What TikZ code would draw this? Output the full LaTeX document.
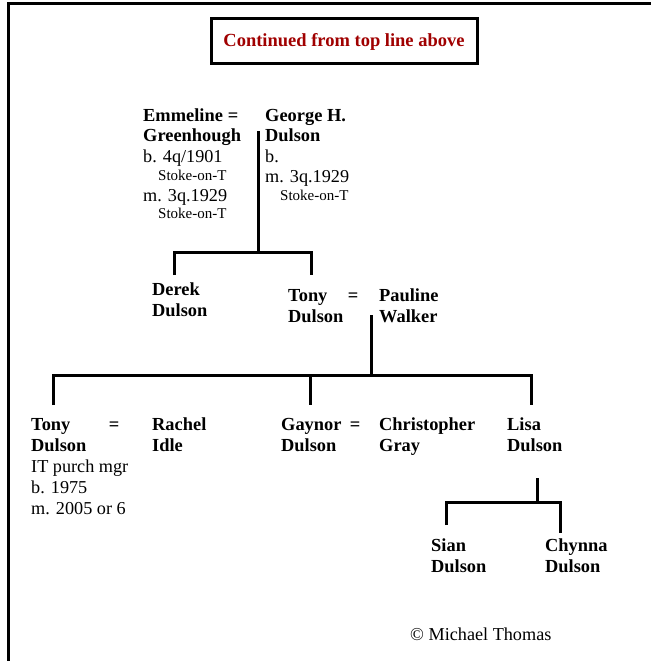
\documentclass[tikz,border=0pt]{standalone}
\usepackage{fontspec}
\setmainfont{Liberation Serif}
\definecolor{titlered}{HTML}{A00000}
\begin{document}
\begin{tikzpicture}[x=1pt,y=-1pt,
  pname/.style={anchor=base west, inner sep=0pt, font=\bfseries\fontsize{18.4}{20}\selectfont},
  pinfo/.style={anchor=base west, inner sep=0pt, font=\fontsize{18.2}{20}\selectfont},
  psmall/.style={anchor=base west, inner sep=0pt, font=\fontsize{15}{16}\selectfont},
  peq/.style={anchor=base, inner sep=0pt, font=\bfseries\fontsize{18.4}{20}\selectfont},
  link/.style={line width=3pt},
  titlebox/.style={draw, line width=3pt, minimum width=266pt, minimum height=45pt, inner sep=0pt,
    text=titlered, font=\bfseries\fontsize{18.5}{22}\selectfont}]
\useasboundingbox (0,0) rectangle (651,661);
\draw[line width=3pt] (8,661) -- (8,4) -- (651,4);
\node[titlebox] (title) at (344,41.5) {Continued from top line above};

% generation 1
\node[pname] (emm1) at (143,121.5) {Emmeline};
\node[peq] (eqa) at (233,121.5) {=};
\node[pname] (geo1) at (265,121.5) {George H.};
\node[pname] (emm2) at (143,141.5) {Greenhough};
\node[pname] (geo2) at (265,141.5) {Dulson};
\node[pinfo] (emm3) at (143,162.5) {b. 4q/1901};
\node[psmall] (emm4) at (158,180.5) {Stoke-on-T};
\node[pinfo] (emm5) at (143,201) {m. 3q.1929};
\node[psmall] (emm6) at (158,218.5) {Stoke-on-T};
\node[pinfo] (geo3) at (265,162.5) {b.};
\node[pinfo] (geo4) at (265,182) {m. 3q.1929};
\node[psmall] (geo5) at (280,200) {Stoke-on-T};

\coordinate (g1top) at (258,131);
\coordinate (g1bar) at (258,252);
\coordinate (g1l) at (174,252);
\coordinate (g1r) at (311,252);
\coordinate (g1ld) at (174,275);
\coordinate (g1rd) at (311,275);
\draw[link] (g1top) -- (g1bar);
\draw[link] (g1ld) -- (g1l) -- (g1r) -- (g1rd);

% generation 2
\node[pname] (der1) at (152,295) {Derek};
\node[pname] (der2) at (152,316) {Dulson};
\node[pname] (ton1) at (288,301) {Tony};
\node[peq] (eqb) at (353,301) {=};
\node[pname] (pau1) at (379,301) {Pauline};
\node[pname] (ton2) at (288,322) {Dulson};
\node[pname] (pau2) at (379,322) {Walker};

\coordinate (g2top) at (371,315);
\coordinate (g2bar) at (371,375);
\coordinate (g2l) at (53,375);
\coordinate (g2m) at (310,375);
\coordinate (g2r) at (531,375);
\coordinate (g2ld) at (53,405);
\coordinate (g2md) at (310,405);
\coordinate (g2rd) at (531,405);
\draw[link] (g2top) -- (g2bar);
\draw[link] (g2ld) -- (g2l) -- (g2r) -- (g2rd);
\draw[link] (g2m) -- (g2md);

% generation 3
\node[pname] (tt1) at (31,430) {Tony};
\node[peq] (eqc) at (114,430) {=};
\node[pname] (rac1) at (152,430) {Rachel};
\node[pname] (tt2) at (31,451) {Dulson};
\node[pname] (rac2) at (152,451) {Idle};
\node[pinfo] (tt3) at (31,472) {IT purch mgr};
\node[pinfo] (tt4) at (31,493) {b. 1975};
\node[pinfo] (tt5) at (31,514) {m. 2005 or 6};

\node[pname] (gay1) at (281,430) {Gaynor};
\node[peq] (eqd) at (355,430) {=};
\node[pname] (chr1) at (379,430) {Christopher};
\node[pname] (gay2) at (281,451) {Dulson};
\node[pname] (chr2) at (379,451) {Gray};
\node[pname] (lis1) at (507,430) {Lisa};
\node[pname] (lis2) at (507,451) {Dulson};

\coordinate (g3top) at (537,478);
\coordinate (g3bar) at (537,502);
\coordinate (g3l) at (446,502);
\coordinate (g3r) at (560,502);
\coordinate (g3ld) at (446,525);
\coordinate (g3rd) at (560,533);
\draw[link] (g3top) -- (g3bar);
\draw[link] (g3ld) -- (g3l) -- (g3r) -- (g3rd);

% generation 4
\node[pname] (sia1) at (431,551) {Sian};
\node[pname] (sia2) at (431,572) {Dulson};
\node[pname] (chy1) at (545,551) {Chynna};
\node[pname] (chy2) at (545,572) {Dulson};

\node[pinfo] (copy) at (410,640) {© Michael Thomas};
\end{tikzpicture}
\end{document}
